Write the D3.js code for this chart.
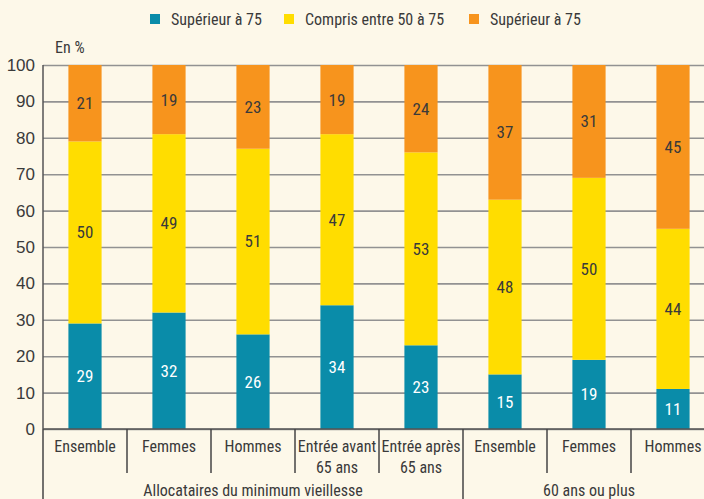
<!DOCTYPE html>
<html>
<head>
<meta charset="utf-8">
<script src="https://cdn.jsdelivr.net/npm/d3@7"></script>
<style>
  body { margin: 0; background: #fdf8e9; overflow: hidden; }
  svg { display: block; font-family: "Liberation Sans Narrow", "Roboto Condensed", "Liberation Sans", sans-serif; }
</style>
</head>
<body>
<div id="chart"></div>
<script>
// categories and values
let categories = ["Ensemble", "Femmes", "Hommes", "Entrée avant|65 ans", "Entrée après|65 ans", "Ensemble", "Femmes", "Hommes"]
let low = [29, 32, 26, 34, 23, 15, 19, 11]
let mid = [50, 49, 51, 47, 53, 48, 50, 44]
let high = [21, 19, 23, 19, 24, 37, 31, 45]
let seriesNames = ["Supérieur à 75", "Compris entre 50 à 75", "Supérieur à 75"]
let colors = ["#0a8ca9", "#ffdd00", "#f7941d"]
let groups = [{name: "Allocataires du minimum vieillesse", from: 0, to: 5}, {name: "60 ans ou plus", from: 5, to: 8}]
let yTicks = d3.range(0, 101, 10)

let width = 704, height = 499
let margin = {top: 65, left: 43}
let step = 84
let innerW = step * categories.length,
    innerH = 364
let textColor = "#3a3a3a"
let fontSize = 16

let svg = d3.select("#chart").append("svg")
    .attr("width", width)
    .attr("height", height)

let g = svg.append("g")
    .attr("transform", "translate(" + margin.left + "," + margin.top + ")")

let xScale = d3.scaleBand()
    .domain(d3.range(categories.length))
    .range([0, innerW])
    .paddingInner(0.605)
    .paddingOuter(0.3025)

let yScale = d3.scaleLinear()
    .domain([0, 100])
    .range([innerH, 0])

// gridlines + y labels
let yAxis = d3.axisLeft(yScale)
    .tickValues(yTicks)
    .tickSize(-innerW)
    .tickSizeOuter(0)
    .tickPadding(8)

let ya = g.append("g").call(yAxis)
ya.select(".domain").remove()
ya.selectAll(".tick line").attr("stroke", "#929292").attr("stroke-width", 1.6)
ya.selectAll(".tick text")
    .attr("font-size", fontSize + 1)
    .attr("fill", textColor)
    .attr("font-family", "inherit")

// stacks
let rows = categories.map((c, i) => ({i: i, low: low[i], mid: mid[i], high: high[i]}))
let stack = d3.stack().keys(["low", "mid", "high"])(rows)

let layer = g.selectAll(".layer")
    .data(stack)
    .enter().append("g")
    .attr("fill", (d, k) => colors[k])

layer.selectAll("rect")
    .data(d => d)
    .enter().append("rect")
    .attr("x", d => xScale(d.data.i))
    .attr("width", xScale.bandwidth())
    .attr("y", d => yScale(d[1]))
    .attr("height", d => yScale(d[0]) - yScale(d[1]))

layer.each(function(s, k) {
  d3.select(this).selectAll("text")
    .data(s)
    .enter().append("text")
    .attr("x", d => xScale(d.data.i) + xScale.bandwidth() / 2)
    .attr("y", d => yScale((d[0] + d[1]) / 2))
    .attr("dy", "0.35em")
    .attr("text-anchor", "middle")
    .attr("font-size", fontSize + 1)
    .attr("fill", k == 0 ? "#fff" : textColor)
    .text(d => d[1] - d[0])
})

// y axis line
g.append("line")
  .attr("x1", 0).attr("x2", 0)
  .attr("y1", 0).attr("y2", innerH)
  .attr("stroke", "#555")
  .attr("stroke-width", 1.5)

// x axis line
g.append("line")
  .attr("x1", 0).attr("x2", innerW)
  .attr("y1", innerH).attr("y2", innerH)
  .attr("stroke", "#555")
  .attr("stroke-width", 1.5)

// separators between categories
let edge = i => i * step
let groupStarts = groups.map(d => d.from)
d3.range(categories.length).forEach(i => {
  let big = groupStarts.includes(i)
  g.append("line")
    .attr("x1", edge(i)).attr("x2", edge(i))
    .attr("y1", innerH).attr("y2", big ? height - margin.top : innerH + 44)
    .attr("stroke", "#444")
    .attr("stroke-width", 1.5)
})

// category labels
categories.forEach((c, i) => {
  let t = g.append("text")
    .attr("text-anchor", "middle")
    .attr("font-size", fontSize)
    .attr("fill", textColor)
  c.split("|").forEach((line, j) => {
    t.append("tspan")
      .attr("x", xScale(i) + xScale.bandwidth() / 2)
      .attr("y", innerH + 23 + j * 21)
      .text(line)
  })
})

// group labels
groups.forEach(gr => {
  let x0 = edge(gr.from), x1 = edge(gr.to)
  g.append("text")
    .attr("x", (x0 + x1) / 2)
    .attr("y", innerH + 67)
    .attr("text-anchor", "middle")
    .attr("font-size", fontSize)
    .attr("fill", textColor)
    .text(gr.name)
})

// unit label
svg.append("text")
  .attr("x", 55).attr("y", 53)
  .attr("font-size", fontSize)
  .attr("fill", textColor)
  .text("En %")

// legend
let legendX = [150, 284, 469]
seriesNames.forEach((n, k) => {
  svg.append("rect")
    .attr("x", legendX[k]).attr("y", 14)
    .attr("width", 10).attr("height", 10)
    .attr("fill", colors[k])
  svg.append("text")
    .attr("x", legendX[k] + 21).attr("y", 19)
    .attr("dy", "0.35em")
    .attr("font-size", fontSize)
    .attr("fill", textColor)
    .text(n)
})
</script>
</body>
</html>
